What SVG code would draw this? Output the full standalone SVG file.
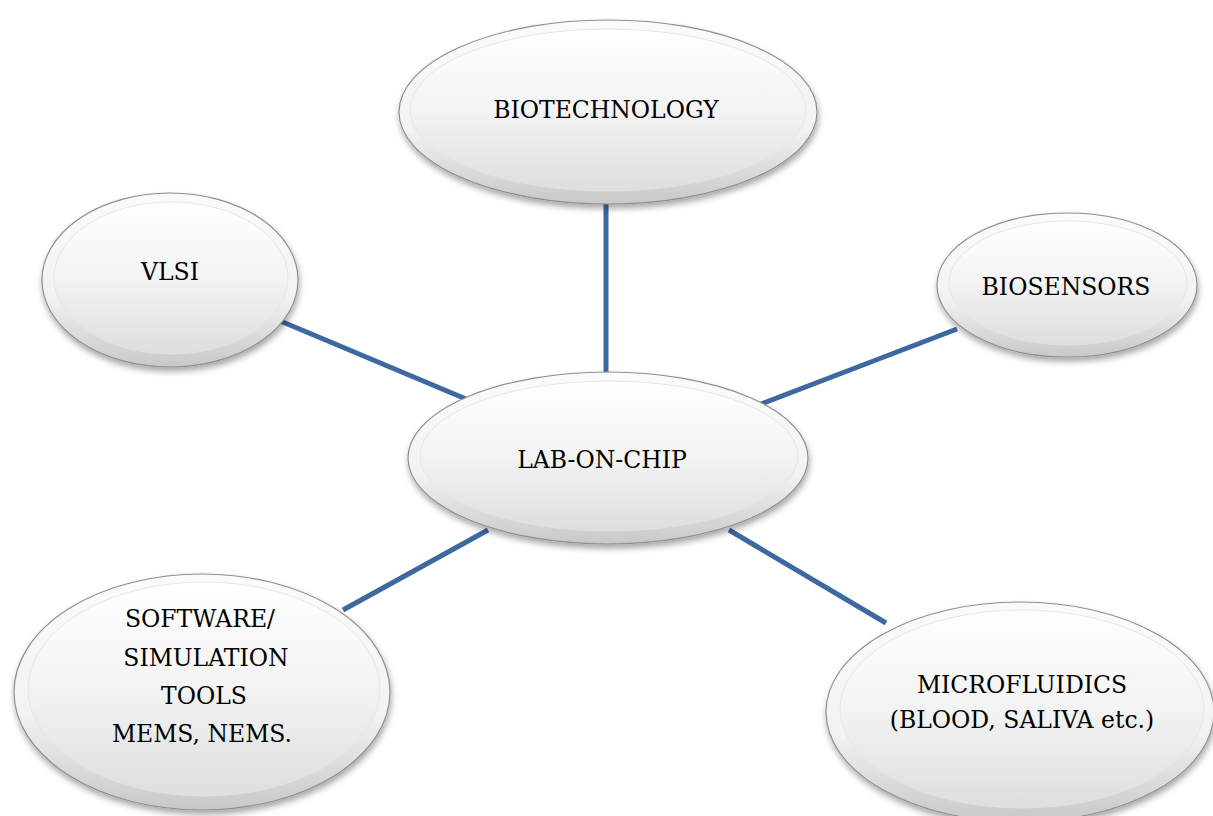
<svg xmlns="http://www.w3.org/2000/svg" width="1213" height="816" viewBox="0 0 1213 816">
<style>
text{font-family:'DejaVu Serif','Liberation Serif',serif;font-size:23.5px;fill:#000;text-anchor:middle}
.outer{fill:url(#gOuter);stroke:#8f8f8f;stroke-width:1.2;filter:url(#sh)}
.inner{fill:url(#gInner);stroke:#e2e2e2;stroke-width:0.8}
.conn line{stroke:#3d68a0;stroke-width:5;stroke-linecap:butt}
</style>
<defs>
<linearGradient id="gOuter" x1="0" y1="0" x2="0" y2="1">
<stop offset="0" stop-color="#fbfbfb"/>
<stop offset="0.6" stop-color="#f2f2f2"/>
<stop offset="1" stop-color="#c8c8c8"/>
</linearGradient>
<linearGradient id="gInner" x1="0" y1="0" x2="0" y2="1">
<stop offset="0" stop-color="#ffffff"/>
<stop offset="0.5" stop-color="#f3f3f3"/>
<stop offset="1" stop-color="#dedede"/>
</linearGradient>
<filter id="sh" x="-10%" y="-10%" width="120%" height="125%">
<feDropShadow dx="1" dy="4" stdDeviation="3" flood-color="#000" flood-opacity="0.35"/>
</filter>
</defs>
<rect width="1213" height="816" fill="#fff"/>
<g id="connectors" class="conn">
<line x1="606" y1="200" x2="606" y2="378"/>
<line x1="278" y1="320" x2="466" y2="399"/>
<line x1="957" y1="329" x2="761" y2="404"/>
<line x1="343" y1="610" x2="488" y2="530"/>
<line x1="729" y1="530" x2="886" y2="623"/>
</g>
<g id="biotechnology">
<ellipse class="outer" cx="608" cy="112" rx="209" ry="92"/>
<ellipse class="inner" cx="608" cy="110" rx="198" ry="81"/>
<text x="606" y="118">BIOTECHNOLOGY</text>
</g>
<g id="vlsi">
<ellipse class="outer" cx="170" cy="280" rx="128" ry="87"/>
<ellipse class="inner" cx="171" cy="278" rx="117" ry="76"/>
<text x="170" y="280">VLSI</text>
</g>
<g id="biosensors">
<ellipse class="outer" cx="1067" cy="285" rx="130" ry="72"/>
<ellipse class="inner" cx="1068" cy="283" rx="119" ry="62"/>
<text x="1066" y="295">BIOSENSORS</text>
</g>
<g id="lab-on-chip">
<ellipse class="outer" cx="608" cy="458" rx="200" ry="86"/>
<ellipse class="inner" cx="609" cy="456" rx="189" ry="75"/>
<text x="602" y="468">LAB-ON-CHIP</text>
</g>
<g id="software">
<ellipse class="outer" cx="202" cy="692" rx="188" ry="118"/>
<ellipse class="inner" cx="204" cy="689" rx="176" ry="107"/>
<text x="200" y="627">SOFTWARE/</text>
<text x="206" y="666">SIMULATION</text>
<text x="204" y="704">TOOLS</text>
<text x="202" y="742">MEMS, NEMS.</text>
</g>
<g id="microfluidics">
<ellipse class="outer" cx="1020" cy="712" rx="194" ry="110"/>
<ellipse class="inner" cx="1022" cy="709" rx="182" ry="99"/>
<text x="1022" y="693">MICROFLUIDICS</text>
<text x="1022" y="728">(BLOOD, SALIVA etc.)</text>
</g>
</svg>
